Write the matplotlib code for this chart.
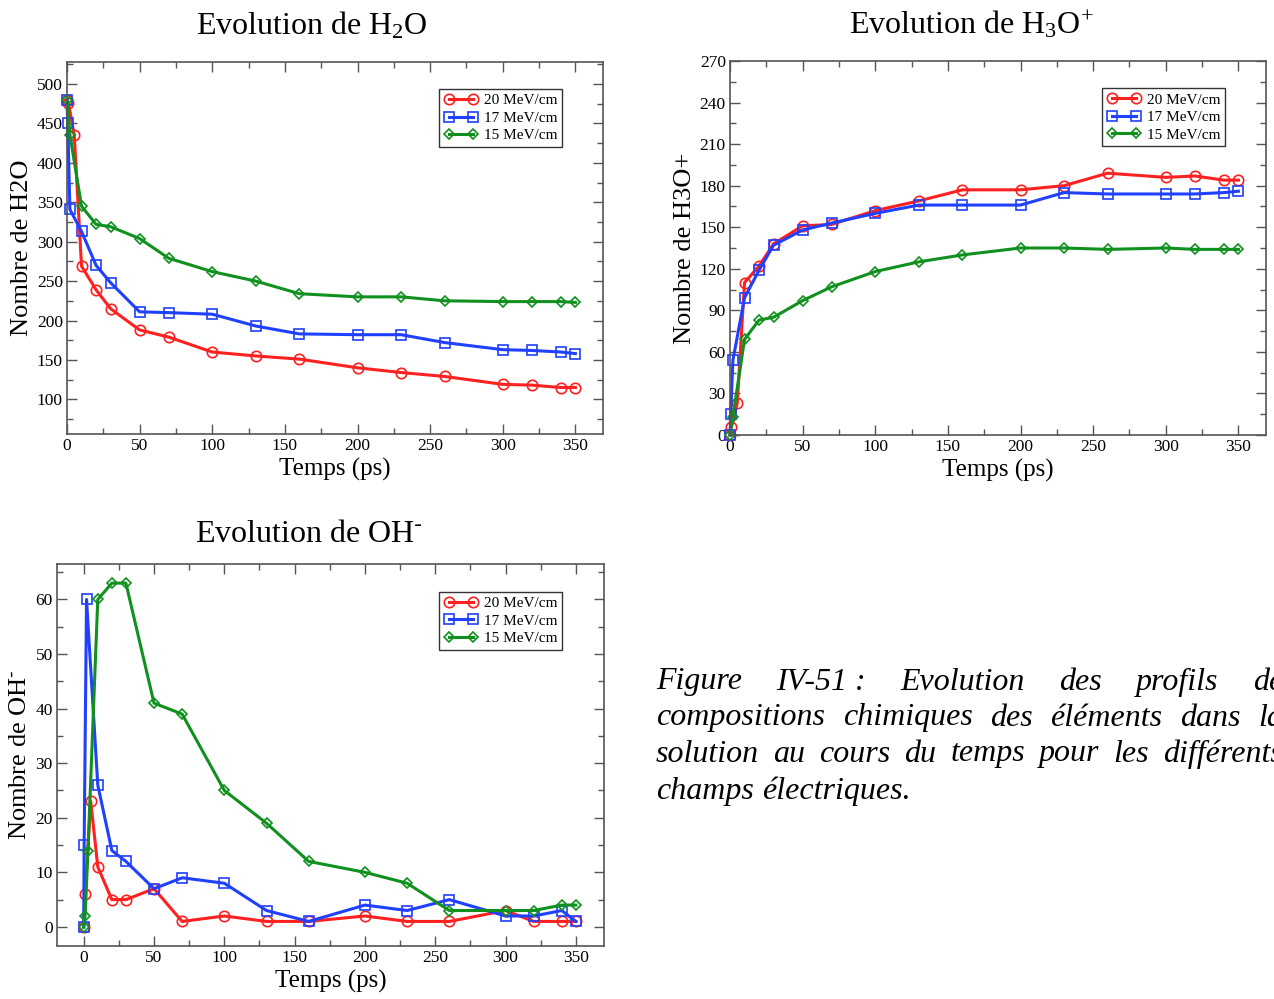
import numpy as np
import matplotlib
matplotlib.use("Agg")
import matplotlib.pyplot as plt
from matplotlib.ticker import MultipleLocator

plt.rcParams['font.family'] = ['Liberation Serif', 'DejaVu Serif']
plt.rcParams['mathtext.default'] = 'regular'

# Données
series_labels = ["20 MeV/cm", "17 MeV/cm", "15 MeV/cm"]

# H2O
h2o_t_20 = [0, 1, 5, 10, 20, 30, 50, 70, 100, 130, 160, 200, 230, 260, 300, 320, 340, 350]
h2o_v_20 = [480, 476, 435, 269, 239, 215, 188, 179, 160, 155, 151, 140, 134, 129, 119, 118, 115, 115]
h2o_t_17 = [0, 0.5, 2, 10, 20, 30, 50, 70, 100, 130, 160, 200, 230, 260, 300, 320, 340, 350]
h2o_v_17 = [480, 451, 341, 313, 270, 248, 211, 210, 208, 193, 183, 182, 182, 172, 163, 162, 160, 158]
h2o_t_15 = [0, 2, 10, 20, 30, 50, 70, 100, 130, 160, 200, 230, 260, 300, 320, 340, 350]
h2o_v_15 = [480, 436, 345, 322, 319, 304, 279, 262, 250, 234, 230, 230, 225, 224, 224, 224, 223]

# H3O+
h3o_t_20 = [0, 1, 5, 10, 20, 30, 50, 70, 100, 130, 160, 200, 230, 260, 300, 320, 340, 350]
h3o_v_20 = [0, 6, 23, 110, 122, 138, 151, 152, 162, 169, 177, 177, 180, 189, 186, 187, 184, 184]
h3o_t_17 = [0, 0.5, 2, 10, 20, 30, 50, 70, 100, 130, 160, 200, 230, 260, 300, 320, 340, 350]
h3o_v_17 = [0, 15, 54, 99, 119, 137, 148, 153, 160, 166, 166, 166, 175, 174, 174, 174, 175, 176]
h3o_t_15 = [0, 2, 10, 20, 30, 50, 70, 100, 130, 160, 200, 230, 260, 300, 320, 340, 350]
h3o_v_15 = [0, 13, 69, 83, 85, 97, 107, 118, 125, 130, 135, 135, 134, 135, 134, 134, 134]

# OH-
oh_t_20 = [0, 1, 5, 10, 20, 30, 50, 70, 100, 130, 160, 200, 230, 260, 300, 320, 340, 350]
oh_v_20 = [0, 6, 23, 11, 5, 5, 7, 1, 2, 1, 1, 2, 1, 1, 3, 1, 1, 1]
oh_t_17 = [0, 0.3, 2, 10, 20, 30, 50, 70, 100, 130, 160, 200, 230, 260, 300, 320, 340, 350]
oh_v_17 = [0, 15, 60, 26, 14, 12, 7, 9, 8, 3, 1, 4, 3, 5, 2, 2, 3, 1]
oh_t_15 = [0, 1, 3, 10, 20, 30, 50, 70, 100, 130, 160, 200, 230, 260, 300, 320, 340, 350]
oh_v_15 = [0, 2, 14, 60, 63, 63, 41, 39, 25, 19, 12, 10, 8, 3, 3, 3, 4, 4]

colors = ["#ff2020", "#2040ff", "#10901e"]
markers = ["o", "s", "D"]
msizes = [7.5, 6.5, 5.5]

# Légende de la figure (mots par ligne)
caption = [
    ["Figure", "IV-51 :", "Evolution", "des", "profils", "de"],
    ["compositions", "chimiques", "des", "éléments", "dans", "la"],
    ["solution", "au", "cours", "du", "temps", "pour", "les", "différents"],
    ["champs", "électriques."],
]

W, H = 1274, 999
fig = plt.figure(figsize=(W / 100, H / 100), dpi=100)


def box(l, t, r, b):
    return [l / W, 1 - b / H, (r - l) / W, (b - t) / H]


def draw(ax, data, xlim, ylim, ymaj, ymin, title, ylabel, title_x, title_pad):
    for (t, v), c, m, ms, lab in zip(data, colors, markers, msizes, series_labels):
        ax.plot(t, v, color=c, lw=2.2, marker=m, ms=ms, mfc="none",
                mec=c, mew=1.2, label=lab, clip_on=False)
    ax.set_xlim(*xlim)
    ax.set_ylim(*ylim)
    ax.xaxis.set_major_locator(MultipleLocator(50))
    ax.xaxis.set_minor_locator(MultipleLocator(25))
    ax.yaxis.set_major_locator(MultipleLocator(ymaj))
    ax.yaxis.set_minor_locator(MultipleLocator(ymin))
    ax.tick_params(which="both", direction="in", top=True, right=True,
                   labelsize=12.5, pad=3, color="#555555")
    ax.tick_params(which="major", length=7, width=1)
    ax.tick_params(which="minor", length=4, width=1)
    for s in ax.spines.values():
        s.set_color("#555555")
        s.set_linewidth(1.2)
    ax.set_xlabel("Temps (ps)", fontsize=18, labelpad=3)
    ax.set_ylabel(ylabel, fontsize=19, labelpad=3)
    ax.set_title(title, fontsize=23, x=title_x, pad=title_pad)
    leg = ax.legend(loc="upper right", bbox_to_anchor=(0.923, 0.927),
                    fontsize=11, numpoints=2, handlelength=2.2,
                    labelspacing=0.25, borderpad=0.3, handletextpad=0.4,
                    fancybox=False, framealpha=1, borderaxespad=0)
    leg.get_frame().set_edgecolor("#333333")
    leg.get_frame().set_linewidth(1)


ax1 = fig.add_axes(box(67, 62, 603, 434))
draw(ax1, [(h2o_t_20, h2o_v_20), (h2o_t_17, h2o_v_17), (h2o_t_15, h2o_v_15)],
     (0, 369), (56, 528), 50, 25, "Evolution de H$_2$O", "Nombre de H2O", 0.457, 20)

ax2 = fig.add_axes(box(730, 61, 1266, 435))
draw(ax2, [(h3o_t_20, h3o_v_20), (h3o_t_17, h3o_v_17), (h3o_t_15, h3o_v_15)],
     (0, 369), (0, 270), 30, 15, "Evolution de H$_3$O$^{{+}}$", "Nombre de H3O+", 0.45, 20)

ax3 = fig.add_axes(box(57, 564, 604, 946))
draw(ax3, [(oh_t_20, oh_v_20), (oh_t_17, oh_v_17), (oh_t_15, oh_v_15)],
     (-19, 370), (-3.5, 66.5), 10, 5, r"Evolution de OH$^{\text{-}}$",
     r"Nombre de OH$^{\text{-}}$", 0.46, 16)

# Texte justifié
renderer = fig.canvas.get_renderer()
left_px, right_px = 656, 1283
line_y = [682, 718, 754, 791]
for i, (words, y) in enumerate(zip(caption, line_y)):
    texts = [fig.text(0, 1 - y / H, w, fontsize=23, style="italic",
                      va="center", ha="left") for w in words]
    widths = [tx.get_window_extent(renderer).width for tx in texts]
    if i < len(caption) - 1 and len(words) > 1:
        gap = (right_px - left_px - sum(widths)) / (len(words) - 1)
    else:
        gap = 8
    x = left_px
    for tx, w in zip(texts, widths):
        tx.set_x(x / W)
        x += w + gap

fig.savefig("out.png", dpi=100)
